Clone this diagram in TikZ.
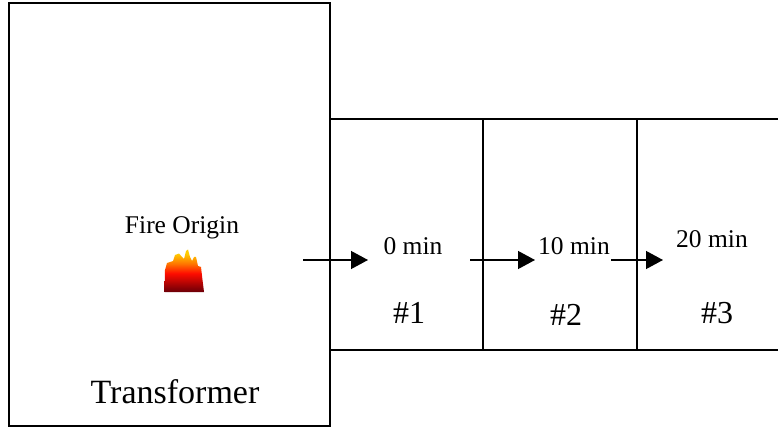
\documentclass[tikz,border=0pt]{standalone}
\usepackage{fontspec}
\setmainfont{Liberation Serif}
\usetikzlibrary{arrows.meta}
\pgfdeclareverticalshading{flameshade}{100bp}{
  rgb(0bp)=(0.42,0,0.03);
  rgb(25bp)=(0.42,0,0.03);
  rgb(30bp)=(0.55,0,0.02);
  rgb(47bp)=(1,0.05,0);
  rgb(58bp)=(1,0.45,0);
  rgb(70bp)=(1,0.8,0);
  rgb(100bp)=(1,0.8,0)}
\tikzset{
  boxnode/.style={draw=black,line width=1.35pt,fill=none,inner sep=0pt,outer sep=0pt,anchor=north west},
  flow/.style={draw=black,line width=1.3pt,-{Triangle[length=17pt,width=18pt]}},
  small/.style={font=\fontsize{25.5}{25.5}\selectfont,inner sep=0pt},
  medium/.style={font=\fontsize{32}{32}\selectfont,inner sep=0pt},
  big/.style={font=\fontsize{34}{34}\selectfont,inner sep=0pt}
}
\begin{document}
\begin{tikzpicture}[x=1pt,y=-1pt]
\useasboundingbox (0,0) rectangle (778,427);
\clip (0,0) rectangle (778,427);
\node[boxnode,minimum width=321pt,minimum height=423pt] (transformer) at (9,3) {};
\node[boxnode,minimum width=153pt,minimum height=231pt] (room1) at (330,119) {};
\node[boxnode,minimum width=154pt,minimum height=231pt] (room2) at (483,119) {};
\node[boxnode,minimum width=170pt,minimum height=231pt] (room3) at (637,119) {};
\shade[shading=flameshade]
  (164.5,292) -- (165,270) -- (167,263) -- (173,261) -- (175,255) -- (179,253.5) -- (182,257) -- (184,259)
  -- (186,251) -- (188,249.5) -- (190,257) -- (192,261) -- (194,257) -- (196,257) -- (198,266) -- (201,267) -- (202.5,280) -- (204,292) -- cycle;
\node[small] (fire) at (182,228) {Fire Origin};
\node[small] (t0) at (413,246) {0 min};
\node[small] (t10) at (574,246) {10 min};
\node[small] (t20) at (712,239) {20 min};
\node[medium] (n1) at (409,313) {\#1};
\node[medium] (n2) at (566,315) {\#2};
\node[medium] (n3) at (717,313) {\#3};
\node[big] (label) at (175,392) {Transformer};
\coordinate (a1s) at (303,260); \coordinate (a1e) at (368,260);
\coordinate (a2s) at (470,260); \coordinate (a2e) at (535,260);
\coordinate (a3s) at (611,260); \coordinate (a3e) at (663,260);
\draw[flow] (a1s) -- (a1e);
\draw[flow] (a2s) -- (a2e);
\draw[flow] (a3s) -- (a3e);
\end{tikzpicture}
\end{document}
